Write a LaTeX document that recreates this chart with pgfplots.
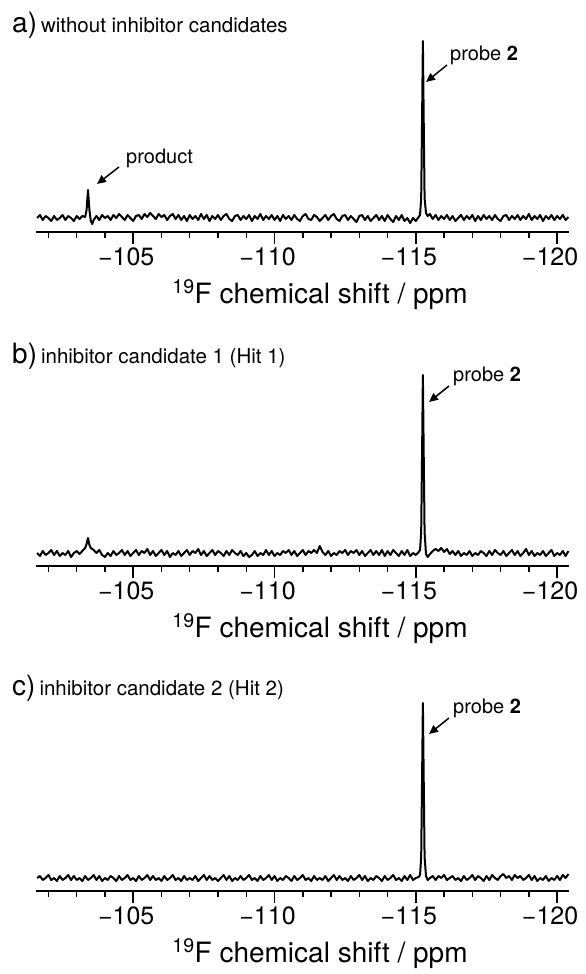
\documentclass[border=0pt]{standalone}
\usepackage{fontspec}
\setmainfont{TeX Gyre Heros}
\usepackage{pgfplots}
\pgfplotsset{compat=1.18}
\usetikzlibrary{arrows.meta}

\pgfplotsset{nmr/.style={
  scale only axis, width=533pt, height=191pt,
  xmin=-120.42, xmax=-101.56, x dir=reverse,
  ymin=0, ymax=191,
  axis x line*=bottom, axis y line=none,
  x axis line style={line width=1.8pt, -},
  xtick={-120,-115,-110,-105},
  xticklabels={−120,−115,−110,−105},
  minor xtick={-120,-119,...,-102},
  tick align=outside,
  major tick length=12pt, minor tick length=6pt,
  every tick/.style={black, line width=1.5pt},
  xticklabel style={font=\fontsize{25}{25}\selectfont, xshift=-7pt},
  clip=false,
}}

\begin{document}
\begin{tikzpicture}
\useasboundingbox (0,0) rectangle (586pt,-974pt);

% ---------------- panel a ----------------
\begin{axis}[nmr, at={(36pt,-232pt)}, anchor=south west]
\addplot[black, line width=2pt, line join=round] coordinates {
(-101.6,14)(-101.7,17)(-101.8,12)(-101.9,16)(-102.0,14)(-102.1,11)(-102.2,16)(-102.3,12)(-102.4,14)(-102.5,17)
(-102.6,12)(-102.7,16)(-102.8,14)(-102.9,11)(-103.0,16)(-103.1,13)(-103.2,16)(-103.3,15)(-103.35,22)(-103.4,42)
(-103.45,22)(-103.5,11)(-103.55,8)(-103.6,12)(-103.7,16)(-103.8,12)(-103.9,17)(-104.0,14)(-104.1,16)(-104.2,12)
(-104.3,17)(-104.4,14)(-104.5,18)(-104.6,15)(-104.7,12)(-104.8,17)(-104.9,14)(-105.0,11)(-105.1,16)(-105.2,17)
(-105.3,13)(-105.4,18)(-105.5,15)(-105.6,19)(-105.7,16)(-105.8,13)(-105.9,18)(-106.0,15)(-106.1,17)(-106.2,12)
(-106.3,16)(-106.4,18)(-106.5,13)(-106.6,17)(-106.7,12)(-106.8,16)(-106.9,11)(-107.0,17)(-107.1,13)(-107.2,16)
(-107.3,12)(-107.4,18)(-107.5,13)(-107.6,17)(-107.7,11)(-107.8,16)(-107.9,13)(-108.0,17)(-108.1,12)(-108.2,16)
(-108.3,18)(-108.4,13)(-108.5,11)(-108.6,16)(-108.7,17)(-108.8,12)(-108.9,16)(-109.0,13)(-109.1,17)(-109.2,11)
(-109.3,16)(-109.4,13)(-109.5,18)(-109.6,12)(-109.7,16)(-109.8,13)(-109.9,17)(-110.0,12)(-110.1,16)(-110.2,11)
(-110.3,17)(-110.4,13)(-110.5,16)(-110.6,12)(-110.7,17)(-110.8,13)(-110.9,11)(-111.0,16)(-111.1,18)(-111.2,13)
(-111.3,12)(-111.4,17)(-111.5,15)(-111.6,11)(-111.7,14)(-111.8,17)(-111.9,12)(-112.0,16)(-112.1,18)(-112.2,13)
(-112.3,11)(-112.4,16)(-112.5,17)(-112.6,12)(-112.7,16)(-112.8,13)(-112.9,10)(-113.0,16)(-113.1,17)(-113.2,12)
(-113.3,16)(-113.4,11)(-113.5,14)(-113.6,17)(-113.7,12)(-113.8,16)(-113.9,11)(-114.0,17)(-114.1,13)(-114.2,10)
(-114.3,16)(-114.4,12)(-114.5,17)(-114.6,11)(-114.7,14)(-114.8,9)(-114.9,14)(-115.0,11)(-115.1,15)(-115.15,17)
(-115.19,34)(-115.22,110)(-115.25,191)(-115.28,110)(-115.31,34)(-115.36,19)(-115.42,16)(-115.5,18)(-115.6,13)(-115.7,17)
(-115.8,12)(-115.9,16)(-116.0,13)(-116.1,17)(-116.2,12)(-116.3,16)(-116.4,11)(-116.5,14)(-116.6,17)(-116.7,12)
(-116.8,16)(-116.9,13)(-117.0,17)(-117.1,11)(-117.2,16)(-117.3,12)(-117.4,17)(-117.5,13)(-117.6,16)(-117.7,12)
(-117.8,17)(-117.9,13)(-118.0,11)(-118.1,16)(-118.2,17)(-118.3,12)(-118.4,16)(-118.5,13)(-118.6,17)(-118.7,12)
(-118.8,16)(-118.9,13)(-119.0,18)(-119.1,12)(-119.2,16)(-119.3,13)(-119.4,17)(-119.5,11)(-119.6,16)(-119.7,13)
(-119.8,17)(-119.9,12)(-120.0,16)(-120.1,13)(-120.2,17)(-120.3,12)(-120.4,15)
};
\end{axis}

% ---------------- panel b ----------------
\begin{axis}[nmr, at={(36pt,-566pt)}, anchor=south west]
\addplot[black, line width=2pt, line join=round] coordinates {
(-101.6,13)(-101.7,10)(-101.8,15)(-101.9,11)(-102.0,13)(-102.1,16)(-102.2,11)(-102.3,15)(-102.4,10)(-102.5,13)
(-102.6,11)(-102.7,15)(-102.8,9)(-102.9,13)(-103.0,15)(-103.1,12)(-103.2,15)(-103.3,18)(-103.35,22)(-103.4,28)
(-103.45,21)(-103.5,18)(-103.6,16)(-103.7,13)(-103.8,16)(-103.9,11)(-104.0,9)(-104.1,13)(-104.2,10)(-104.3,15)
(-104.4,11)(-104.5,13)(-104.6,16)(-104.7,11)(-104.8,15)(-104.9,10)(-105.0,13)(-105.1,16)(-105.2,11)(-105.3,15)
(-105.4,13)(-105.5,17)(-105.6,11)(-105.7,15)(-105.8,10)(-105.9,13)(-106.0,16)(-106.1,11)(-106.2,15)(-106.3,9)
(-106.4,13)(-106.5,11)(-106.6,15)(-106.7,10)(-106.8,13)(-106.9,16)(-107.0,11)(-107.1,15)(-107.2,13)(-107.3,17)
(-107.4,11)(-107.5,15)(-107.6,10)(-107.7,13)(-107.8,16)(-107.9,11)(-108.0,15)(-108.1,13)(-108.2,10)(-108.3,15)
(-108.4,11)(-108.5,16)(-108.6,13)(-108.7,11)(-108.8,15)(-108.9,10)(-109.0,13)(-109.1,9)(-109.2,11)(-109.3,15)
(-109.4,10)(-109.5,13)(-109.6,11)(-109.7,16)(-109.8,11)(-109.9,15)(-110.0,10)(-110.1,13)(-110.2,11)(-110.3,15)
(-110.4,13)(-110.5,16)(-110.6,11)(-110.7,15)(-110.8,10)(-110.9,13)(-111.0,16)(-111.1,11)(-111.2,15)(-111.3,13)
(-111.4,16)(-111.5,13)(-111.6,20)(-111.7,14)(-111.8,11)(-111.9,15)(-112.0,10)(-112.1,13)(-112.2,11)(-112.3,15)
(-112.4,13)(-112.5,16)(-112.6,11)(-112.7,15)(-112.8,13)(-112.9,16)(-113.0,11)(-113.1,15)(-113.2,10)(-113.3,13)
(-113.4,16)(-113.5,11)(-113.6,15)(-113.7,11)(-113.8,16)(-113.9,10)(-114.0,15)(-114.1,11)(-114.2,16)(-114.3,13)
(-114.4,10)(-114.5,15)(-114.6,11)(-114.7,16)(-114.8,10)(-114.9,13)(-115.0,11)(-115.1,14)(-115.15,16)
(-115.19,34)(-115.22,110)(-115.25,191)(-115.28,110)(-115.31,34)(-115.36,12)(-115.42,9)(-115.5,12)(-115.6,15)(-115.7,17)
(-115.8,15)(-115.9,18)(-116.0,14)(-116.1,17)(-116.2,12)(-116.3,15)(-116.4,11)(-116.5,15)(-116.6,10)(-116.7,13)
(-116.8,11)(-116.9,15)(-117.0,10)(-117.1,13)(-117.2,11)(-117.3,15)(-117.4,13)(-117.5,10)(-117.6,15)(-117.7,11)
(-117.8,16)(-117.9,13)(-118.0,11)(-118.1,15)(-118.2,10)(-118.3,13)(-118.4,16)(-118.5,11)(-118.6,15)(-118.7,10)
(-118.8,13)(-118.9,17)(-119.0,11)(-119.1,15)(-119.2,10)(-119.3,13)(-119.4,11)(-119.5,15)(-119.6,10)(-119.7,13)
(-119.8,16)(-119.9,10)(-120.0,13)(-120.1,11)(-120.2,15)(-120.3,10)(-120.4,15)
};
\end{axis}

% ---------------- panel c ----------------
\begin{axis}[nmr, at={(36pt,-891pt)}, anchor=south west]
\addplot[black, line width=2pt, line join=round] coordinates {
(-101.6,13)(-101.7,15)(-101.8,11)(-101.9,13)(-102.0,16)(-102.1,11)(-102.2,13)(-102.3,10)(-102.4,15)(-102.5,11)
(-102.6,13)(-102.7,16)(-102.8,11)(-102.9,15)(-103.0,11)(-103.1,13)(-103.2,10)(-103.3,15)(-103.4,11)(-103.5,13)
(-103.6,16)(-103.7,11)(-103.8,15)(-103.9,10)(-104.0,13)(-104.1,11)(-104.2,15)(-104.3,13)(-104.4,10)(-104.5,15)
(-104.6,11)(-104.7,13)(-104.8,16)(-104.9,11)(-105.0,13)(-105.1,10)(-105.2,15)(-105.3,11)(-105.4,13)(-105.5,16)
(-105.6,11)(-105.7,15)(-105.8,11)(-105.9,13)(-106.0,10)(-106.1,15)(-106.2,11)(-106.3,13)(-106.4,16)(-106.5,11)
(-106.6,13)(-106.7,10)(-106.8,15)(-106.9,11)(-107.0,13)(-107.1,11)(-107.2,15)(-107.3,10)(-107.4,13)(-107.5,16)
(-107.6,11)(-107.7,15)(-107.8,11)(-107.9,13)(-108.0,10)(-108.1,13)(-108.2,16)(-108.3,11)(-108.4,15)(-108.5,10)
(-108.6,13)(-108.7,11)(-108.8,15)(-108.9,11)(-109.0,13)(-109.1,16)(-109.2,11)(-109.3,13)(-109.4,10)(-109.5,15)
(-109.6,11)(-109.7,13)(-109.8,16)(-109.9,11)(-110.0,15)(-110.1,10)(-110.2,13)(-110.3,11)(-110.4,15)(-110.5,13)
(-110.6,10)(-110.7,15)(-110.8,11)(-110.9,13)(-111.0,16)(-111.1,11)(-111.2,13)(-111.3,10)(-111.4,15)(-111.5,11)
(-111.6,13)(-111.7,11)(-111.8,15)(-111.9,10)(-112.0,13)(-112.1,16)(-112.2,11)(-112.3,15)(-112.4,11)(-112.5,13)
(-112.6,10)(-112.7,15)(-112.8,11)(-112.9,13)(-113.0,16)(-113.1,11)(-113.2,15)(-113.3,10)(-113.4,13)(-113.5,11)
(-113.6,15)(-113.7,13)(-113.8,10)(-113.9,15)(-114.0,11)(-114.1,13)(-114.2,16)(-114.3,11)(-114.4,13)(-114.5,10)
(-114.6,15)(-114.7,11)(-114.8,16)(-114.9,11)(-115.0,13)(-115.1,14)(-115.15,16)
(-115.19,34)(-115.22,110)(-115.25,188)(-115.28,110)(-115.31,34)(-115.36,15)(-115.42,11)(-115.5,13)(-115.6,15)(-115.7,11)
(-115.8,15)(-115.9,13)(-116.0,16)(-116.1,11)(-116.2,13)(-116.3,15)(-116.4,11)(-116.5,13)(-116.6,10)(-116.7,15)
(-116.8,11)(-116.9,13)(-117.0,16)(-117.1,11)(-117.2,15)(-117.3,13)(-117.4,10)(-117.5,15)(-117.6,11)(-117.7,16)
(-117.8,13)(-117.9,11)(-118.0,15)(-118.1,17)(-118.2,13)(-118.3,15)(-118.4,11)(-118.5,16)(-118.6,13)(-118.7,15)
(-118.8,11)(-118.9,13)(-119.0,16)(-119.1,11)(-119.2,15)(-119.3,10)(-119.4,13)(-119.5,11)(-119.6,15)(-119.7,10)
(-119.8,13)(-119.9,11)(-120.0,15)(-120.1,11)(-120.2,16)(-120.3,13)(-120.4,17)
};
\end{axis}

% ---------------- titles ----------------
\node[anchor=base west, inner sep=0pt] at (12pt,-33pt)
  {{\fontsize{28}{28}\selectfont a)}\hspace{4pt}{\fontsize{20.5}{20.5}\selectfont without inhibitor candidates}};
\node[anchor=base west, inner sep=0pt] at (12pt,-363pt)
  {{\fontsize{28}{28}\selectfont b)}\hspace{4pt}{\fontsize{20.5}{20.5}\selectfont inhibitor candidate 1 (Hit 1)}};
\node[anchor=base west, inner sep=0pt] at (12pt,-695pt)
  {{\fontsize{28}{28}\selectfont c)}\hspace{4pt}{\fontsize{20.5}{20.5}\selectfont inhibitor candidate 2 (Hit 2)}};

% ---------------- axis labels ----------------
\foreach \yb in {303,637,962}
  \node[anchor=base, inner sep=0pt] at (320pt,-\yb pt)
    {\fontsize{28}{28}\selectfont\textsuperscript{19}F chemical shift / ppm};

% ---------------- annotations ----------------
\node[anchor=base west, inner sep=0pt] at (450pt,-61pt) {\fontsize{20}{20}\selectfont probe \textbf{2}};
\draw[line width=1.5pt, -{Triangle[length=9pt,width=8pt]}] (447pt,-65pt) -- (426pt,-82pt);

\node[anchor=base west, inner sep=0pt] at (126pt,-163pt) {\fontsize{20}{20}\selectfont product};
\draw[line width=1.5pt, -{Triangle[length=9pt,width=8pt]}] (119pt,-167pt) -- (97pt,-184pt);

\node[anchor=base west, inner sep=0pt] at (453pt,-381pt) {\fontsize{20}{20}\selectfont probe \textbf{2}};
\draw[line width=1.5pt, -{Triangle[length=9pt,width=8pt]}] (449pt,-386pt) -- (429pt,-402pt);

\node[anchor=base west, inner sep=0pt] at (453pt,-713pt) {\fontsize{20}{20}\selectfont probe \textbf{2}};
\draw[line width=1.5pt, -{Triangle[length=9pt,width=8pt]}] (449pt,-718pt) -- (429pt,-734pt);
\end{tikzpicture}
\end{document}
